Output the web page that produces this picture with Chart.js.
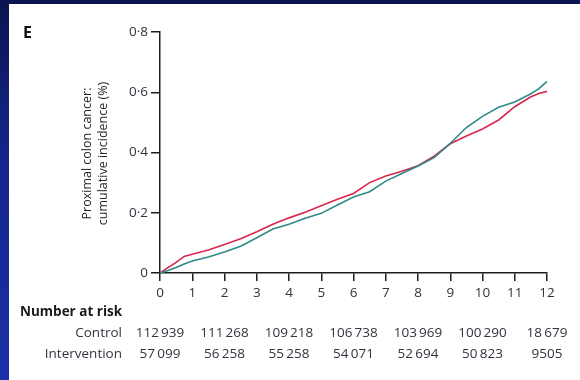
<!DOCTYPE html>
<html>
<head>
<meta charset="utf-8">
<script src="https://cdn.jsdelivr.net/npm/chart.js@4"></script>
<style>
  html, body { margin: 0; padding: 0; width: 580px; height: 380px; overflow: hidden; }
  body { background: linear-gradient(to bottom, #0a1450 0%, #14258a 40%, #1c30a8 100%); position: relative; }
  #panel { position: absolute; left: 9px; top: 4px; right: 0; bottom: 0; background: #ffffff; }
  #wrap { position: absolute; left: 0; top: 0; width: 580px; height: 380px; }
</style>
</head>
<body>
<div id="panel"></div>
<div id="wrap"><canvas id="chart" width="580" height="380"></canvas></div>
<script>
// Follow-up time (years) at which the cumulative incidence was sampled
const years = [0, 0.25, 0.5, 0.75, 1, 1.5, 2, 2.5, 3, 3.5, 4, 4.5, 5, 5.5, 6, 6.5, 7, 7.5, 8, 8.5, 9, 9.5, 10, 10.5, 11, 11.5, 11.75, 12];

// Cumulative incidence of proximal colon cancer (%)
const interventionIncidence = [0, 0.018, 0.035, 0.055, 0.062, 0.076, 0.095, 0.114, 0.137, 0.162, 0.183, 0.202, 0.223, 0.245, 0.264, 0.300, 0.322, 0.338, 0.356, 0.388, 0.429, 0.455, 0.478, 0.508, 0.552, 0.585, 0.596, 0.603];
const controlIncidence      = [0, 0.008, 0.018, 0.030, 0.040, 0.053, 0.070, 0.089, 0.117, 0.146, 0.162, 0.182, 0.198, 0.226, 0.252, 0.270, 0.305, 0.330, 0.355, 0.383, 0.430, 0.483, 0.520, 0.550, 0.568, 0.595, 0.612, 0.636];

// Number-at-risk table
const riskYears = [0, 2, 4, 6, 8, 10, 12];
const controlAtRisk = [112939, 111268, 109218, 106738, 103969, 100290, 18679];
const interventionAtRisk = [57099, 56258, 55258, 54071, 52694, 50823, 9505];

const yTicks = [0, 0.2, 0.4, 0.6, 0.8];
const yTitle = ['Proximal colon cancer:', 'cumulative incidence (%)'];
const panelLabel = 'E';

const AXIS_COLOR = '#1e1e1e';
const TEXT_COLOR = '#33333f';
const FONT = '"Open Sans", Lato, sans-serif';

const toPoints = (xs, ys) => xs.map((x, i) => ({ x: x, y: ys[i] }));

// Thousands separated with a thin space
const fmtCount = n => {
  const s = String(n);
  return s.length > 4 ? s.slice(0, s.length - 3) + '\u2009' + s.slice(s.length - 3) : s;
};

const decorations = {
  id: 'decorations',
  afterDraw(chart) {
    const ctx = chart.ctx;
    const xs = chart.scales.x;
    const area = chart.chartArea;
    ctx.save();

    // panel letter
    ctx.fillStyle = '#111';
    ctx.font = 'bold 16px ' + FONT;
    ctx.textAlign = 'left';
    ctx.textBaseline = 'middle';
    ctx.fillText(panelLabel, 23, 33);

    // y-axis title, two rotated lines
    ctx.save();
    ctx.translate(95, (area.top + area.bottom) / 2 + 1);
    ctx.rotate(-Math.PI / 2);
    ctx.fillStyle = '#262626';
    ctx.font = '12.5px ' + FONT;
    ctx.textAlign = 'center';
    ctx.textBaseline = 'middle';
    ctx.fillText(yTitle[0], 0, -8);
    ctx.fillText(yTitle[1], 0, 8);
    ctx.restore();

    // number at risk
    ctx.fillStyle = '#1a1a1a';
    ctx.font = 'bold 13.5px ' + FONT;
    ctx.textAlign = 'left';
    ctx.textBaseline = 'middle';
    ctx.fillText('Number at risk', 20, 312);

    ctx.font = '13.5px ' + FONT;
    ctx.fillStyle = TEXT_COLOR;
    ctx.textAlign = 'right';
    ctx.fillText('Control', 122, 333);
    ctx.fillText('Intervention', 122, 354);

    ctx.textAlign = 'center';
    riskYears.forEach((yr, i) => {
      const px = xs.getPixelForValue(yr);
      ctx.fillText(fmtCount(controlAtRisk[i]), px, 333);
      ctx.fillText(fmtCount(interventionAtRisk[i]), px, 354);
    });
    ctx.restore();
  }
};

new Chart(document.getElementById('chart'), {
  type: 'line',
  data: {
    datasets: [
      {
        label: 'Control',
        data: toPoints(years, controlIncidence),
        borderColor: '#2e8a88',
        borderWidth: 1.6,
        pointRadius: 0,
        tension: 0
      },
      {
        label: 'Intervention',
        data: toPoints(years, interventionIncidence),
        borderColor: '#d6284f',
        borderWidth: 1.6,
        pointRadius: 0,
        tension: 0
      }
    ]
  },
  options: {
    responsive: false,
    animation: false,
    layout: { padding: { left: 0, top: 32, right: 33, bottom: 0 } },
    plugins: { legend: { display: false }, tooltip: { enabled: false } },
    scales: {
      x: {
        type: 'linear',
        min: 0,
        max: 12,
        afterFit(scale) { scale.height = 107; },
        border: { display: true, color: AXIS_COLOR, width: 1.5 },
        grid: { drawOnChartArea: false, drawTicks: true, tickLength: 8, color: AXIS_COLOR, lineWidth: 1.5 },
        ticks: { stepSize: 1, padding: 4, color: TEXT_COLOR, font: { family: FONT, size: 13.5 }, maxRotation: 0 }
      },
      y: {
        type: 'linear',
        min: 0,
        max: 0.8,
        afterFit(scale) { scale.width = 160; },
        afterBuildTicks(scale) { scale.ticks = yTicks.map(v => ({ value: v })); },
        border: { display: true, color: AXIS_COLOR, width: 1.5 },
        grid: { drawOnChartArea: false, drawTicks: true, tickLength: 9, color: AXIS_COLOR, lineWidth: 1.5 },
        ticks: {
          padding: 3,
          color: TEXT_COLOR,
          font: { family: FONT, size: 13.5 },
          callback: v => v === 0 ? '0' : v.toFixed(1).replace('.', '\u00b7')
        }
      }
    }
  },
  plugins: [decorations]
});
</script>
</body>
</html>
